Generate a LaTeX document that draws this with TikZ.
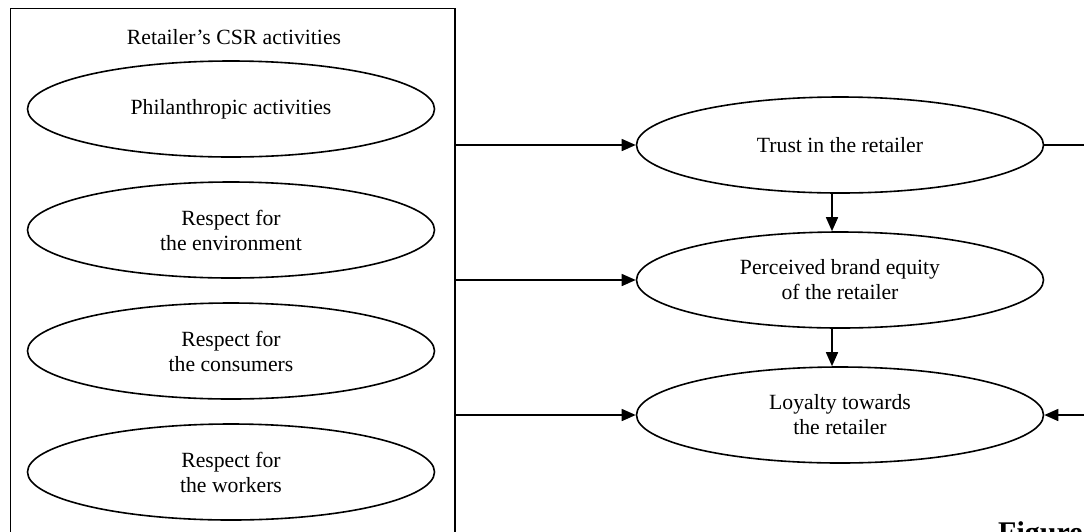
\documentclass[tikz,border=0pt]{standalone}
\usepackage{fontspec}
\setmainfont{Liberation Serif}
\usetikzlibrary{shapes.geometric,arrows.meta}

\tikzstyle{oblock} = [draw,ellipse,line width=1.6pt,minimum width=407pt,minimum height=96pt,inner sep=0pt,align=center,node distance=121pt]
\tikzstyle{rblock} = [oblock,node distance=135pt]
\tikzstyle{frame}  = [draw,rectangle,line width=1.6pt,minimum width=444.5pt,minimum height=545pt,anchor=north west]
\tikzstyle{link}   = [line width=1.6pt,-{Triangle[length=14pt,width=12pt]}]

\begin{document}
\begin{tikzpicture}[x=1pt,y=-1pt,font=\fontsize{21.7}{25}\selectfont]
			\useasboundingbox (0,0) rectangle (1084,531);
			\node [frame](csr) at (9.5,7.5){};
			\node (title) at (234,37){Retailer’s CSR activities};
			\node [oblock](act 1) at (231,109){Philanthropic activities};
			\node [oblock,below of=act 1](act 2){Respect for\\the environment};
			\node [oblock,below of=act 2](act 3){Respect for\\the consumers};
			\node [oblock,below of=act 3](act 4){Respect for\\the workers};

			\node [oblock](trust) at (840,145){Trust in the retailer};
			\node [rblock,below of=trust](equity){Perceived brand equity\\of the retailer};
			\node [rblock,below of=equity](loyal){Loyalty towards\\the retailer};

			\draw [link] (csr.east |- trust) -- (trust);
			\draw [link] (csr.east |- equity) -- (equity);
			\draw [link] (csr.east |- loyal) -- (loyal);
			\draw [link] ([xshift=-8pt]trust.south) -- ([xshift=-8pt]equity.north);
			\draw [link] ([xshift=-8pt]equity.south) -- ([xshift=-8pt]loyal.north);
			\draw [link] (trust.east) -- ++(60,0) |- (loyal.east);

			\node [anchor=north west,inner sep=0pt,font=\bfseries\fontsize{30}{30}\selectfont](fig) at (998,521){Figure};
\end{tikzpicture}
\end{document}
